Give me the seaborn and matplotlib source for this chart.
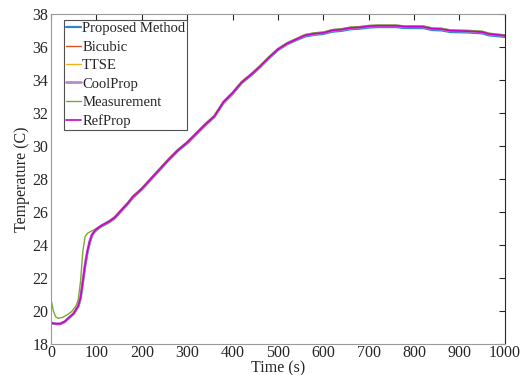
import pandas as pd
import matplotlib
matplotlib.use('Agg')
import matplotlib.pyplot as plt
import seaborn as sns

# Time axis (s) for the simulated curves
time_sim = [0, 10, 20, 30, 40, 50, 60, 65, 70, 75, 80, 85, 90, 95, 100, 110, 120, 130,
            140, 150, 160, 170, 180, 200, 220, 240, 260, 280, 300, 320, 340, 360, 380,
            400, 420, 440, 460, 480, 500, 520, 540, 560, 580, 600, 620, 640, 660, 680,
            700, 720, 760, 780, 820, 840, 860, 880, 920, 950, 965, 1000]

# Simulated temperatures (C)
temp_refprop = [19.27, 19.22, 19.22, 19.35, 19.6, 19.85, 20.3, 20.8, 21.8, 22.8, 23.6, 24.2,
                24.6, 24.8, 24.95, 25.15, 25.3, 25.45, 25.65, 25.95, 26.25, 26.55, 26.9,
                27.4, 28.0, 28.6, 29.2, 29.75, 30.2, 30.75, 31.3, 31.8, 32.65, 33.2, 33.85,
                34.3, 34.8, 35.35, 35.85, 36.2, 36.45, 36.7, 36.8, 36.85, 37.0, 37.05, 37.15,
                37.18, 37.25, 37.28, 37.28, 37.22, 37.22, 37.1, 37.08, 36.98, 36.95, 36.9,
                36.78, 36.68]
temp_proposed = [19.25, 19.2, 19.2, 19.33, 19.58, 19.83, 20.27, 20.75, 21.7, 22.7, 23.5, 24.1,
                 24.55, 24.76, 24.9, 25.1, 25.25, 25.4, 25.6, 25.9, 26.2, 26.5, 26.85,
                 27.35, 27.95, 28.55, 29.15, 29.7, 30.15, 30.7, 31.25, 31.75, 32.6, 33.15, 33.8,
                 34.25, 34.75, 35.3, 35.8, 36.15, 36.4, 36.63, 36.73, 36.78, 36.92, 36.97, 37.07,
                 37.1, 37.17, 37.2, 37.2, 37.14, 37.14, 37.02, 37.0, 36.9, 36.87, 36.82,
                 36.7, 36.6]
temp_bicubic = temp_refprop
temp_ttse = temp_refprop
temp_coolprop = temp_refprop

# Measured temperature
time_meas = [0, 5, 10, 15, 25, 35, 45, 55, 60, 65, 70, 75, 80, 90, 100, 110, 120, 130,
             140, 150, 160, 170, 180, 200, 220, 240, 260, 280, 300, 320, 340, 360, 380,
             400, 420, 440, 460, 480, 500, 520, 540, 560, 580, 600, 620, 640, 660, 680,
             700, 720, 760, 780, 820, 840, 860, 880, 920, 950, 965, 1000]
temp_meas = [20.7, 20.0, 19.65, 19.55, 19.6, 19.75, 19.95, 20.3, 20.7, 21.8, 23.6, 24.5,
             24.7, 24.85, 25.0, 25.15, 25.32, 25.5, 25.7, 26.0, 26.3, 26.6, 26.95,
             27.45, 28.05, 28.65, 29.25, 29.8, 30.25, 30.8, 31.35, 31.85, 32.7, 33.25, 33.9,
             34.35, 34.85, 35.4, 35.9, 36.25, 36.5, 36.75, 36.85, 36.9, 37.05, 37.1, 37.2,
             37.23, 37.3, 37.32, 37.32, 37.27, 37.27, 37.15, 37.13, 37.03, 37.0, 36.95,
             36.83, 36.72]

sns.set_theme(style='white')
plt.rcParams['font.family'] = ['Liberation Serif', 'DejaVu Serif']

fig = plt.figure(figsize=(5.21, 3.75), dpi=100)
ax = fig.add_axes([0.098, 0.083, 0.871, 0.88])

series = [
    ('Proposed Method', time_sim, temp_proposed, '#2C86CE', 1.6),
    ('Bicubic', time_sim, temp_bicubic, '#D95319', 1.0),
    ('TTSE', time_sim, temp_ttse, '#EDB120', 1.0),
    ('CoolProp', time_sim, temp_coolprop, '#B48CC8', 2.0),
    ('Measurement', time_meas, temp_meas, '#77AC30', 1.0),
    ('RefProp', time_sim, temp_refprop, '#CC00CC', 1.2),
]
for name, t, temp, color, lw in series:
    df = pd.DataFrame({'Time': t, 'Temp': temp})
    sns.lineplot(data=df, x='Time', y='Temp', ax=ax, color=color, linewidth=lw,
                 label=name, sort=False)

ax.set_xlim(0, 1000)
ax.set_ylim(18, 38)
ax.set_xticks(range(0, 1001, 100))
ax.set_yticks(range(18, 39, 2))
ax.tick_params(direction='in', length=4.5, width=0.8, top=True, right=True,
               labelsize=11.5, colors='#262626')
ax.tick_params(axis='x', pad=1)
ax.tick_params(axis='y', pad=2)
for side in ['left', 'bottom', 'top']:
    ax.spines[side].set_color('#9A9A9A')
ax.spines['right'].set_color('#262626')
for sp in ax.spines.values():
    sp.set_linewidth(0.8)

ax.set_xlabel('Time (s)', fontsize=11.5, color='#262626')
ax.set_ylabel('Temperature (C)', fontsize=11.5, color='#262626')
ax.xaxis.set_label_coords(0.5, -0.05)
ax.yaxis.set_label_coords(-0.047, 0.5)

leg = ax.legend(loc='upper left', bbox_to_anchor=(0.029, 0.982), borderaxespad=0,
                fontsize=10.5, handlelength=1.0, handletextpad=0.08, labelspacing=0.36,
                borderpad=0.15, frameon=True, fancybox=False)
leg.get_frame().set_edgecolor('#262626')
leg.get_frame().set_linewidth(0.8)

fig.savefig('out.png', dpi=100)
